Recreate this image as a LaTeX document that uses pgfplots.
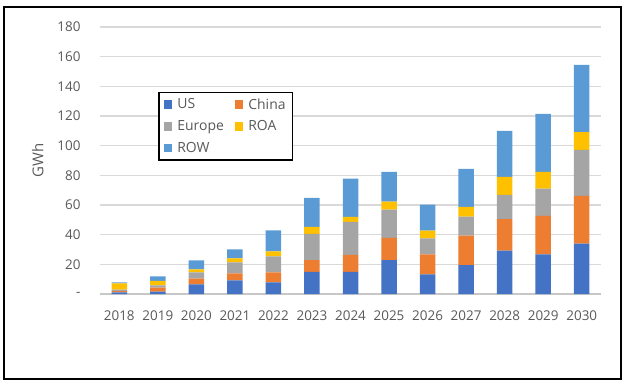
\documentclass[border=0pt]{standalone}
\usepackage{pgfplots}
\pgfplotsset{compat=1.18}
\usepackage{pgfplotstable}
\usepackage{fontspec}
\setmainfont{Open Sans}
\definecolor{cUS}{HTML}{4472C4}
\definecolor{cCN}{HTML}{ED7D31}
\definecolor{cEU}{HTML}{A5A5A5}
\definecolor{cROA}{HTML}{FFC000}
\definecolor{cROW}{HTML}{5B9BD5}
\definecolor{txt}{HTML}{595959}
\definecolor{grid}{HTML}{D9D9D9}
\pgfplotstableread{
x year US China Europe ROA ROW
0 2018 1.1 0.9 0.9 4.3 0.7
1 2019 1.6 2.7 1.6 2.9 3.1
2 2020 6.5 3.8 4.3 2.0 6.1
3 2021 9.2 4.7 7.4 2.7 6.1
4 2022 7.9 6.7 10.8 3.4 14.1
5 2023 15.0 7.9 17.7 4.7 19.5
6 2024 15.0 11.4 22.2 3.4 25.8
7 2025 22.9 15.0 18.9 5.4 20.2
8 2026 13.2 13.5 10.8 5.2 17.5
9 2027 19.5 19.8 12.8 6.7 25.6
10 2028 29.2 21.3 16.4 12.1 31.0
11 2029 26.7 26.0 18.4 11.2 39.1
12 2030 33.9 32.3 31.0 11.9 45.3
}\datatable
\begin{document}
\begin{tikzpicture}[x=1bp,y=1bp]
\path (0,0) rectangle (628,383);
\draw[line width=1.5bp, black] (4,4) rectangle (621,376);
\begin{axis}[
  at={(100bp,89bp)}, anchor=south west,
  width=501bp, height=267bp, scale only axis,
  xmin=-0.5, xmax=12.5, ymin=0, ymax=180,
  clip=false,
  ybar stacked, bar width=15.5bp,
  axis x line*=bottom, axis y line*=left,
  x axis line style={draw=grid!80!gray, line width=1.3bp},
  y axis line style={draw=none},
  major tick length=0pt,
  xtick=data,
  xticklabels from table={\datatable}{year},
  ytick={0,20,...,180},
  yticklabels={-,20,40,60,80,100,120,140,160,180},
  ymajorgrids, grid style={draw=grid, line width=1.1bp},
  tick label style={font=\fontsize{13.5}{16}\selectfont, text=txt},
  xticklabel style={yshift=-13bp},
  yticklabel style={xshift=-16bp},
  legend columns=2,
  legend cell align=left,
  legend style={at={(rel axis cs:0.116,0.757)}, anchor=north west,
    draw=black, line width=1.5bp, font=\fontsize{14}{17}\selectfont, text=txt,
    inner xsep=5bp, inner ysep=4bp, row sep=6bp,
    /tikz/every odd column/.append style={column sep=3bp},
    /tikz/every even column/.append style={column sep=9bp}},
  legend image code/.code={\fill[#1,draw=none] (0bp,-4bp) rectangle (8.5bp,4.5bp);},
]
\addplot[fill=cUS, draw=none] table[x=x, y=US] {\datatable};
\addplot[fill=cCN, draw=none] table[x=x, y=China] {\datatable};
\addplot[fill=cEU, draw=none] table[x=x, y=Europe] {\datatable};
\addplot[fill=cROA, draw=none] table[x=x, y=ROA] {\datatable};
\addplot[fill=cROW, draw=none] table[x=x, y=ROW] {\datatable};
\legend{US, China, Europe, ROA, ROW}
\node[rotate=90, font=\fontsize{15}{18}\selectfont, text=txt] at (rel axis cs:-0.124,0.5) {GWh};
\end{axis}
\end{tikzpicture}
\end{document}
